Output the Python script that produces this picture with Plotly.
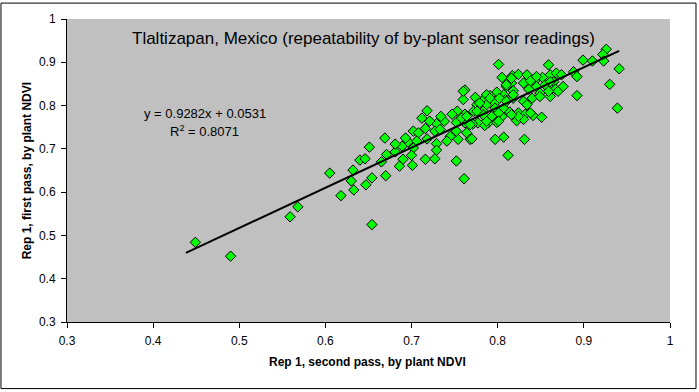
import plotly.graph_objects as go

# Rep 1 second pass NDVI (x) and first pass NDVI (y), by plant
second_pass = [
    0.449, 0.490, 0.559, 0.568, 0.605, 0.618, 0.630, 0.632, 0.633, 0.640, 0.646, 0.647, 0.651, 0.654, 0.654,
    0.712, 0.729, 0.738, 0.752, 0.762, 0.716, 0.702, 0.708, 0.727, 0.733, 0.745, 0.754, 0.764, 0.669, 0.696,
    0.706, 0.718, 0.729, 0.689, 0.702, 0.671, 0.681, 0.700, 0.729, 0.690, 0.716, 0.727, 0.752, 0.686, 0.701,
    0.670, 0.761, 0.665, 0.752, 0.768,
    0.762, 0.760, 0.753, 0.762, 0.718, 0.758,
    0.801, 0.859, 0.805, 0.817, 0.824, 0.834, 0.843, 0.852, 0.861, 0.868, 0.816, 0.810, 0.830, 0.836, 0.845,
    0.855, 0.865, 0.867, 0.861, 0.870, 0.818, 0.807, 0.799, 0.791, 0.785, 0.774, 0.809, 0.818, 0.830, 0.840,
    0.849, 0.787, 0.797, 0.776, 0.772, 0.783, 0.797, 0.807, 0.814, 0.793, 0.805, 0.824, 0.822, 0.832, 0.841,
    0.851, 0.830,
    0.797, 0.807, 0.831, 0.812, 0.770, 0.777, 0.789, 0.799, 0.771, 0.785, 0.824,
    0.926, 0.922, 0.899, 0.910, 0.923, 0.941, 0.888, 0.892, 0.874, 0.876, 0.930, 0.892, 0.939,
    0.816, 0.845, 0.861, 0.838, 0.810, 0.818, 0.787, 0.760, 0.779, 0.791, 0.802, 0.810, 0.764, 0.768,
    0.787, 0.801, 0.816, 0.838, 0.801, 0.834, 0.849, 0.859, 0.783, 0.776,
    0.721, 0.741, 0.693, 0.681, 0.734, 0.747,
]
first_pass = [
    0.484, 0.452, 0.543, 0.566, 0.644, 0.592, 0.626, 0.651, 0.605, 0.674, 0.677, 0.617, 0.704, 0.633, 0.525,
    0.771, 0.758, 0.764, 0.761, 0.760, 0.747, 0.741, 0.737, 0.741, 0.745, 0.729, 0.722, 0.737, 0.725, 0.716,
    0.718, 0.723, 0.712, 0.706, 0.702, 0.687, 0.693, 0.685, 0.697, 0.676, 0.676, 0.677, 0.672, 0.660, 0.662,
    0.638, 0.631, 0.670, 0.741, 0.722,
    0.836, 0.814, 0.787, 0.780, 0.788, 0.771,
    0.895, 0.894, 0.865, 0.869, 0.872, 0.871, 0.857, 0.865, 0.871, 0.875, 0.852, 0.844, 0.852, 0.838, 0.844,
    0.848, 0.855, 0.838, 0.821, 0.833, 0.834, 0.825, 0.831, 0.823, 0.817, 0.819, 0.814, 0.817, 0.810, 0.817,
    0.829, 0.802, 0.806, 0.802, 0.787, 0.787, 0.794, 0.794, 0.785, 0.775, 0.775, 0.783, 0.765, 0.780, 0.777,
    0.773, 0.768,
    0.722, 0.727, 0.722, 0.685, 0.723, 0.760, 0.760, 0.761, 0.757, 0.754, 0.775,
    0.930, 0.918, 0.905, 0.903, 0.903, 0.885, 0.878, 0.867, 0.871, 0.844, 0.849, 0.823, 0.794,
    0.863, 0.867, 0.855, 0.857, 0.848, 0.825, 0.825, 0.833, 0.806, 0.817, 0.817, 0.810, 0.775, 0.756,
    0.764, 0.783, 0.779, 0.783, 0.764, 0.802, 0.821, 0.833, 0.779, 0.787,
    0.764, 0.718, 0.725, 0.711, 0.775, 0.780,
]

# Linear trendline as printed on the chart
slope = 0.9282
intercept = 0.0531
r_squared = 0.8071
trend_x = [0.438, 0.941]
trend_y = [slope * v + intercept for v in trend_x]

title_text = "Tlaltizapan, Mexico (repeatability of by-plant sensor readings)"
x_title = "Rep 1, second pass, by plant NDVI"
y_title = "Rep 1, first pass, by plant NDVI"

FONT = "Liberation Sans, Arial, sans-serif"

fig = go.Figure()
fig.add_trace(go.Scatter(
    x=second_pass, y=first_pass, mode="markers",
    marker=dict(symbol="diamond", size=8, color="#00FF00",
                line=dict(color="black", width=1)),
    showlegend=False, hoverinfo="x+y",
))
fig.add_trace(go.Scatter(
    x=trend_x, y=trend_y, mode="lines",
    line=dict(color="black", width=2),
    showlegend=False, hoverinfo="skip",
))

axis_common = dict(
    range=[0.3, 1.0], dtick=0.1, tick0=0.3, showgrid=False, zeroline=False,
    showline=True, linecolor="black", linewidth=1,
    ticks="outside", ticklen=5, tickcolor="black", tickwidth=1,
    tickfont=dict(family=FONT, size=12, color="black"),
)
fig.update_xaxes(**axis_common, ticklabelstandoff=3)
fig.update_yaxes(**axis_common, ticklabelstandoff=3)

fig.update_layout(
    width=699, height=392,
    margin=dict(l=67, r=29, t=17, b=70),
    paper_bgcolor="white", plot_bgcolor="#C0C0C0",
    font=dict(family=FONT, color="black"),
    annotations=[
        dict(text=title_text, xref="paper", yref="paper", x=0.491, y=0.934,
             showarrow=False, font=dict(family=FONT, size=17, color="black"),
             xanchor="center", yanchor="middle"),
        dict(text="<b>" + x_title + "</b>", xref="paper", yref="paper", x=0.499, y=-0.131,
             showarrow=False, font=dict(family=FONT, size=12, color="black"),
             xanchor="center", yanchor="middle"),
        dict(text="<b>" + y_title + "</b>", xref="paper", yref="paper", x=-0.066, y=0.498,
             showarrow=False, textangle=-90, font=dict(family=FONT, size=12, color="black"),
             xanchor="center", yanchor="middle"),
        dict(text=f"y = {slope}x + {intercept}", xref="x", yref="y", x=0.460, y=0.782,
             showarrow=False, font=dict(family=FONT, size=13, color="black"),
             xanchor="center", yanchor="middle"),
        dict(text=f"R<sup>2</sup> = {r_squared}", xref="x", yref="y", x=0.460, y=0.741,
             showarrow=False, font=dict(family=FONT, size=13, color="black"),
             xanchor="center", yanchor="middle"),
    ],
    shapes=[
        dict(type="rect", xref="paper", yref="paper",
             x0=-0.1095, x1=1.0431, y0=-0.2197, y1=1.0525,
             line=dict(color="black", width=1), fillcolor="rgba(0,0,0,0)", layer="below"),
    ],
)

fig.write_html("out.html", config={"displayModeBar": False},
               post_script="document.body.style.margin='0';document.body.style.padding='0';")
